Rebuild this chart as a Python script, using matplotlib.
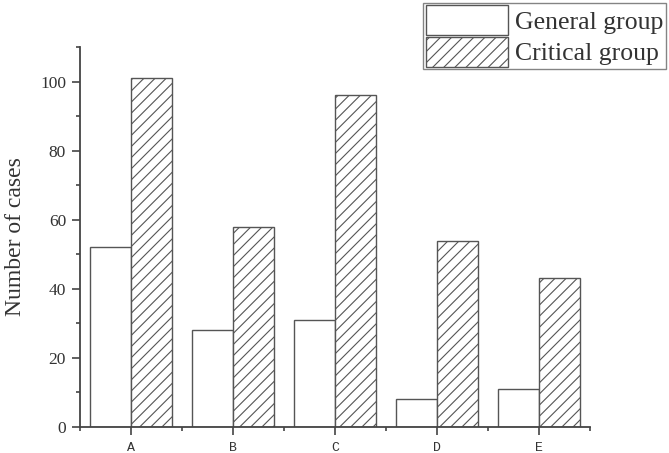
import numpy as np
import matplotlib
matplotlib.use("Agg")
import matplotlib.pyplot as plt
from matplotlib.ticker import MultipleLocator

categories = ["A", "B", "C", "D", "E"]
general = [52, 28, 31, 8, 11]
critical = [101, 58, 96, 54, 43]

plt.rcParams['hatch.linewidth'] = 0.8
plt.rcParams['hatch.color'] = '#444444'

fig = plt.figure(figsize=(6.69, 4.53), dpi=100)
ax = fig.add_axes([0.1196, 0.0574, 0.7624, 0.8386])

x = np.arange(len(categories))
w = 0.4
edge = '#555555'
ax.bar(x - w / 2, general, w, color='white', edgecolor=edge, linewidth=1.0,
       label='General group')
ax.bar(x + w / 2, critical, w, color='white', edgecolor=edge, linewidth=1.0,
       hatch='///', label='Critical group')

ax.set_xlim(-0.5, 4.5)
ax.set_ylim(0, 110)
ax.set_xticks(x)
ax.set_xticklabels(categories, fontfamily='Liberation Mono', fontsize=9.5,
                   color='#333333')
ax.xaxis.set_minor_locator(MultipleLocator(1, offset=0.5))
ax.yaxis.set_major_locator(MultipleLocator(20))
ax.yaxis.set_minor_locator(MultipleLocator(10))
for lab in ax.get_yticklabels():
    lab.set_fontfamily('Liberation Serif')
    lab.set_fontsize(12.5)
    lab.set_color('#333333')
ax.tick_params(axis='both', which='major', direction='out', length=6,
               width=1.2, color='#444444')
ax.tick_params(axis='x', which='major', pad=5)
ax.tick_params(axis='y', which='major', pad=4)
ax.tick_params(axis='both', which='minor', direction='out', length=3,
               width=1.2, color='#444444')
ax.spines['top'].set_visible(False)
ax.spines['right'].set_visible(False)
for s in ['left', 'bottom']:
    ax.spines[s].set_linewidth(1.3)
    ax.spines[s].set_color('#444444')

ax.set_ylabel('Number of cases', fontfamily='Liberation Serif', fontsize=17,
              color='#333333', labelpad=10)

leg = fig.legend(loc='upper right', bbox_to_anchor=(1.0, 1.0),
                 prop={'family': 'Liberation Serif', 'size': 18.5},
                 frameon=True, fancybox=False, handlelength=3.2,
                 handleheight=1.4, handletextpad=0.3, borderpad=0.1,
                 labelspacing=0.08, borderaxespad=0.1)
leg.get_frame().set_edgecolor('#666666')
leg.get_frame().set_linewidth(1.0)
for t in leg.get_texts():
    t.set_color('#333333')

fig.savefig('out.png', dpi=100)
